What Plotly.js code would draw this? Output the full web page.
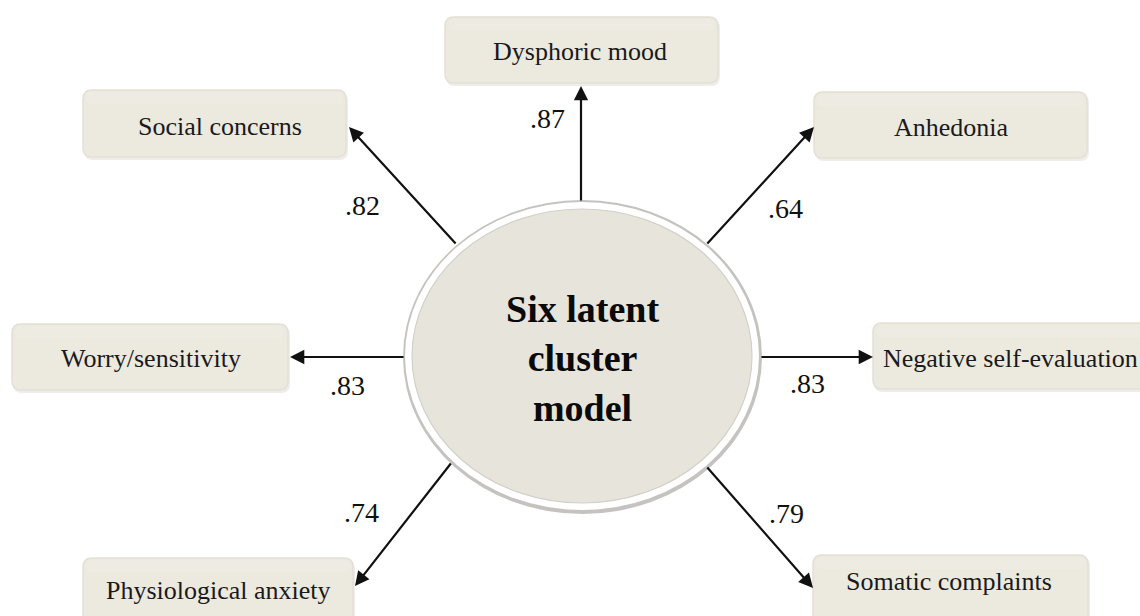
<!DOCTYPE html>
<html><head><meta charset="utf-8">
<script src="https://cdn.plot.ly/plotly-3.0.1.min.js"></script>
<style>html,body{margin:0;padding:0;background:#fff;}#chart{width:1140px;height:616px;}</style>
</head><body><div id="chart"></div>
<script>
// Data
const centerLabel = ["Six latent", "cluster", "model"];
const indicators = ["Dysphoric mood", "Social concerns", "Anhedonia", "Worry/sensitivity",
  "Negative self-evaluation", "Physiological anxiety", "Somatic complaints"];
const loadings = [".87", ".82", ".64", ".83", ".83", ".74", ".79"];

// Layout geometry (pixel space)
const boxes = [
  [445, 17, 718, 83],
  [83, 90, 346, 157],
  [814, 92, 1087, 158],
  [12, 324, 288, 390],
  [873, 323, 1160, 389],
  [83, 558, 353, 626],
  [813, 555, 1088, 624]
];
const textPos = [[580, 51, 'center'], [220, 126, 'center'], [951, 127, 'center'], [151, 358, 'center'],
  [881, 358, 'left'], [218, 590, 'center'], [949, 581, 'center']];
const arrowFrom = [[581, 202], [457, 245], [706, 245], [405, 357], [760, 357], [452, 462], [706, 466]];
const arrowTo = [[581, 86], [349, 127], [814, 127], [290, 357], [873, 357], [355, 586], [813, 588]];
const loadPos = [[547, 118], [362, 205], [785, 208], [347, 385], [807, 383], [361, 512], [786, 513]];
const ell = {cx: 582, cy: 356, rx: 177, ry: 154};

function rr(x0, y0, x1, y1, r) {
  return `M${x0+r},${y0} L${x1-r},${y0} Q${x1},${y0} ${x1},${y0+r} L${x1},${y1-r} Q${x1},${y1} ${x1-r},${y1} L${x0+r},${y1} Q${x0},${y1} ${x0},${y1-r} L${x0},${y0+r} Q${x0},${y0} ${x0+r},${y0} Z`;
}

const shapes = [];
boxes.forEach(b => {
  shapes.push({type: 'path', xref: 'x', yref: 'y', path: rr(b[0]+1, b[1]+2, b[2]+2, b[3]+3, 9),
    fillcolor: 'rgba(205,203,195,0.35)', line: {width: 0}, layer: 'below'});
  shapes.push({type: 'path', xref: 'x', yref: 'y', path: rr(b[0], b[1], b[2], b[3], 9),
    fillcolor: '#ece9df', line: {color: '#e3e0d6', width: 1.5}, layer: 'below'});
  shapes.push({type: 'path', xref: 'x', yref: 'y', path: rr(b[0]+3, b[1]+2, b[2]-3, b[1]+14, 6),
    fillcolor: 'rgba(255,255,255,0.12)', line: {width: 0}, layer: 'below'});
});
// ellipse: shadow, rim, fill
shapes.push({type: 'circle', xref: 'x', yref: 'y', x0: ell.cx-ell.rx-2, x1: ell.cx+ell.rx+3, y0: ell.cy-ell.ry-2, y1: ell.cy+ell.ry+4,
  fillcolor: '#c4c3bf', line: {width: 0}, layer: 'above'});
shapes.push({type: 'circle', xref: 'x', yref: 'y', x0: ell.cx-ell.rx, x1: ell.cx+ell.rx, y0: ell.cy-ell.ry, y1: ell.cy+ell.ry,
  fillcolor: '#ffffff', line: {width: 0}, layer: 'above'});
shapes.push({type: 'circle', xref: 'x', yref: 'y', x0: ell.cx-ell.rx+7, x1: ell.cx+ell.rx-7, y0: ell.cy-ell.ry+7, y1: ell.cy+ell.ry-7,
  fillcolor: '#e7e4dc', line: {color: '#d3d0c8', width: 1.2}, layer: 'above'});

const serif = 'Liberation Serif, Times New Roman, serif';
const annotations = [];
indicators.forEach((name, i) => {
  annotations.push({x: textPos[i][0], y: textPos[i][1], xref: 'x', yref: 'y', text: name, showarrow: false,
    xanchor: textPos[i][2], yanchor: 'middle', font: {family: serif, size: 26, color: '#1a1a1a'}});
  annotations.push({x: arrowTo[i][0], y: arrowTo[i][1], ax: arrowFrom[i][0], ay: arrowFrom[i][1], xref: 'x', yref: 'y', axref: 'x', ayref: 'y',
    text: '', showarrow: true, arrowhead: 2, arrowsize: 1.3, arrowwidth: 2.2, arrowcolor: '#111'});
  annotations.push({x: loadPos[i][0], y: loadPos[i][1], xref: 'x', yref: 'y', text: loadings[i], showarrow: false,
    xanchor: 'center', yanchor: 'middle', font: {family: serif, size: 28, color: '#111'}});
});
annotations.push({x: ell.cx, y: ell.cy + 2, xref: 'x', yref: 'y', text: centerLabel.map(s => '<b>' + s + '</b>').join('<br>'),
  showarrow: false, xanchor: 'center', yanchor: 'middle',
  font: {family: serif, size: 38, color: '#0a0a0a'}});

const layout = {
  width: 1140, height: 616, margin: {l: 0, r: 0, t: 0, b: 0},
  paper_bgcolor: '#ffffff', plot_bgcolor: '#ffffff', showlegend: false,
  xaxis: {range: [0, 1140], visible: false, fixedrange: true},
  yaxis: {range: [616, 0], visible: false, fixedrange: true},
  shapes: shapes, annotations: annotations
};
Plotly.newPlot('chart', [{x: [], y: [], type: 'scatter'}], layout, {staticPlot: true});
</script></body></html>
